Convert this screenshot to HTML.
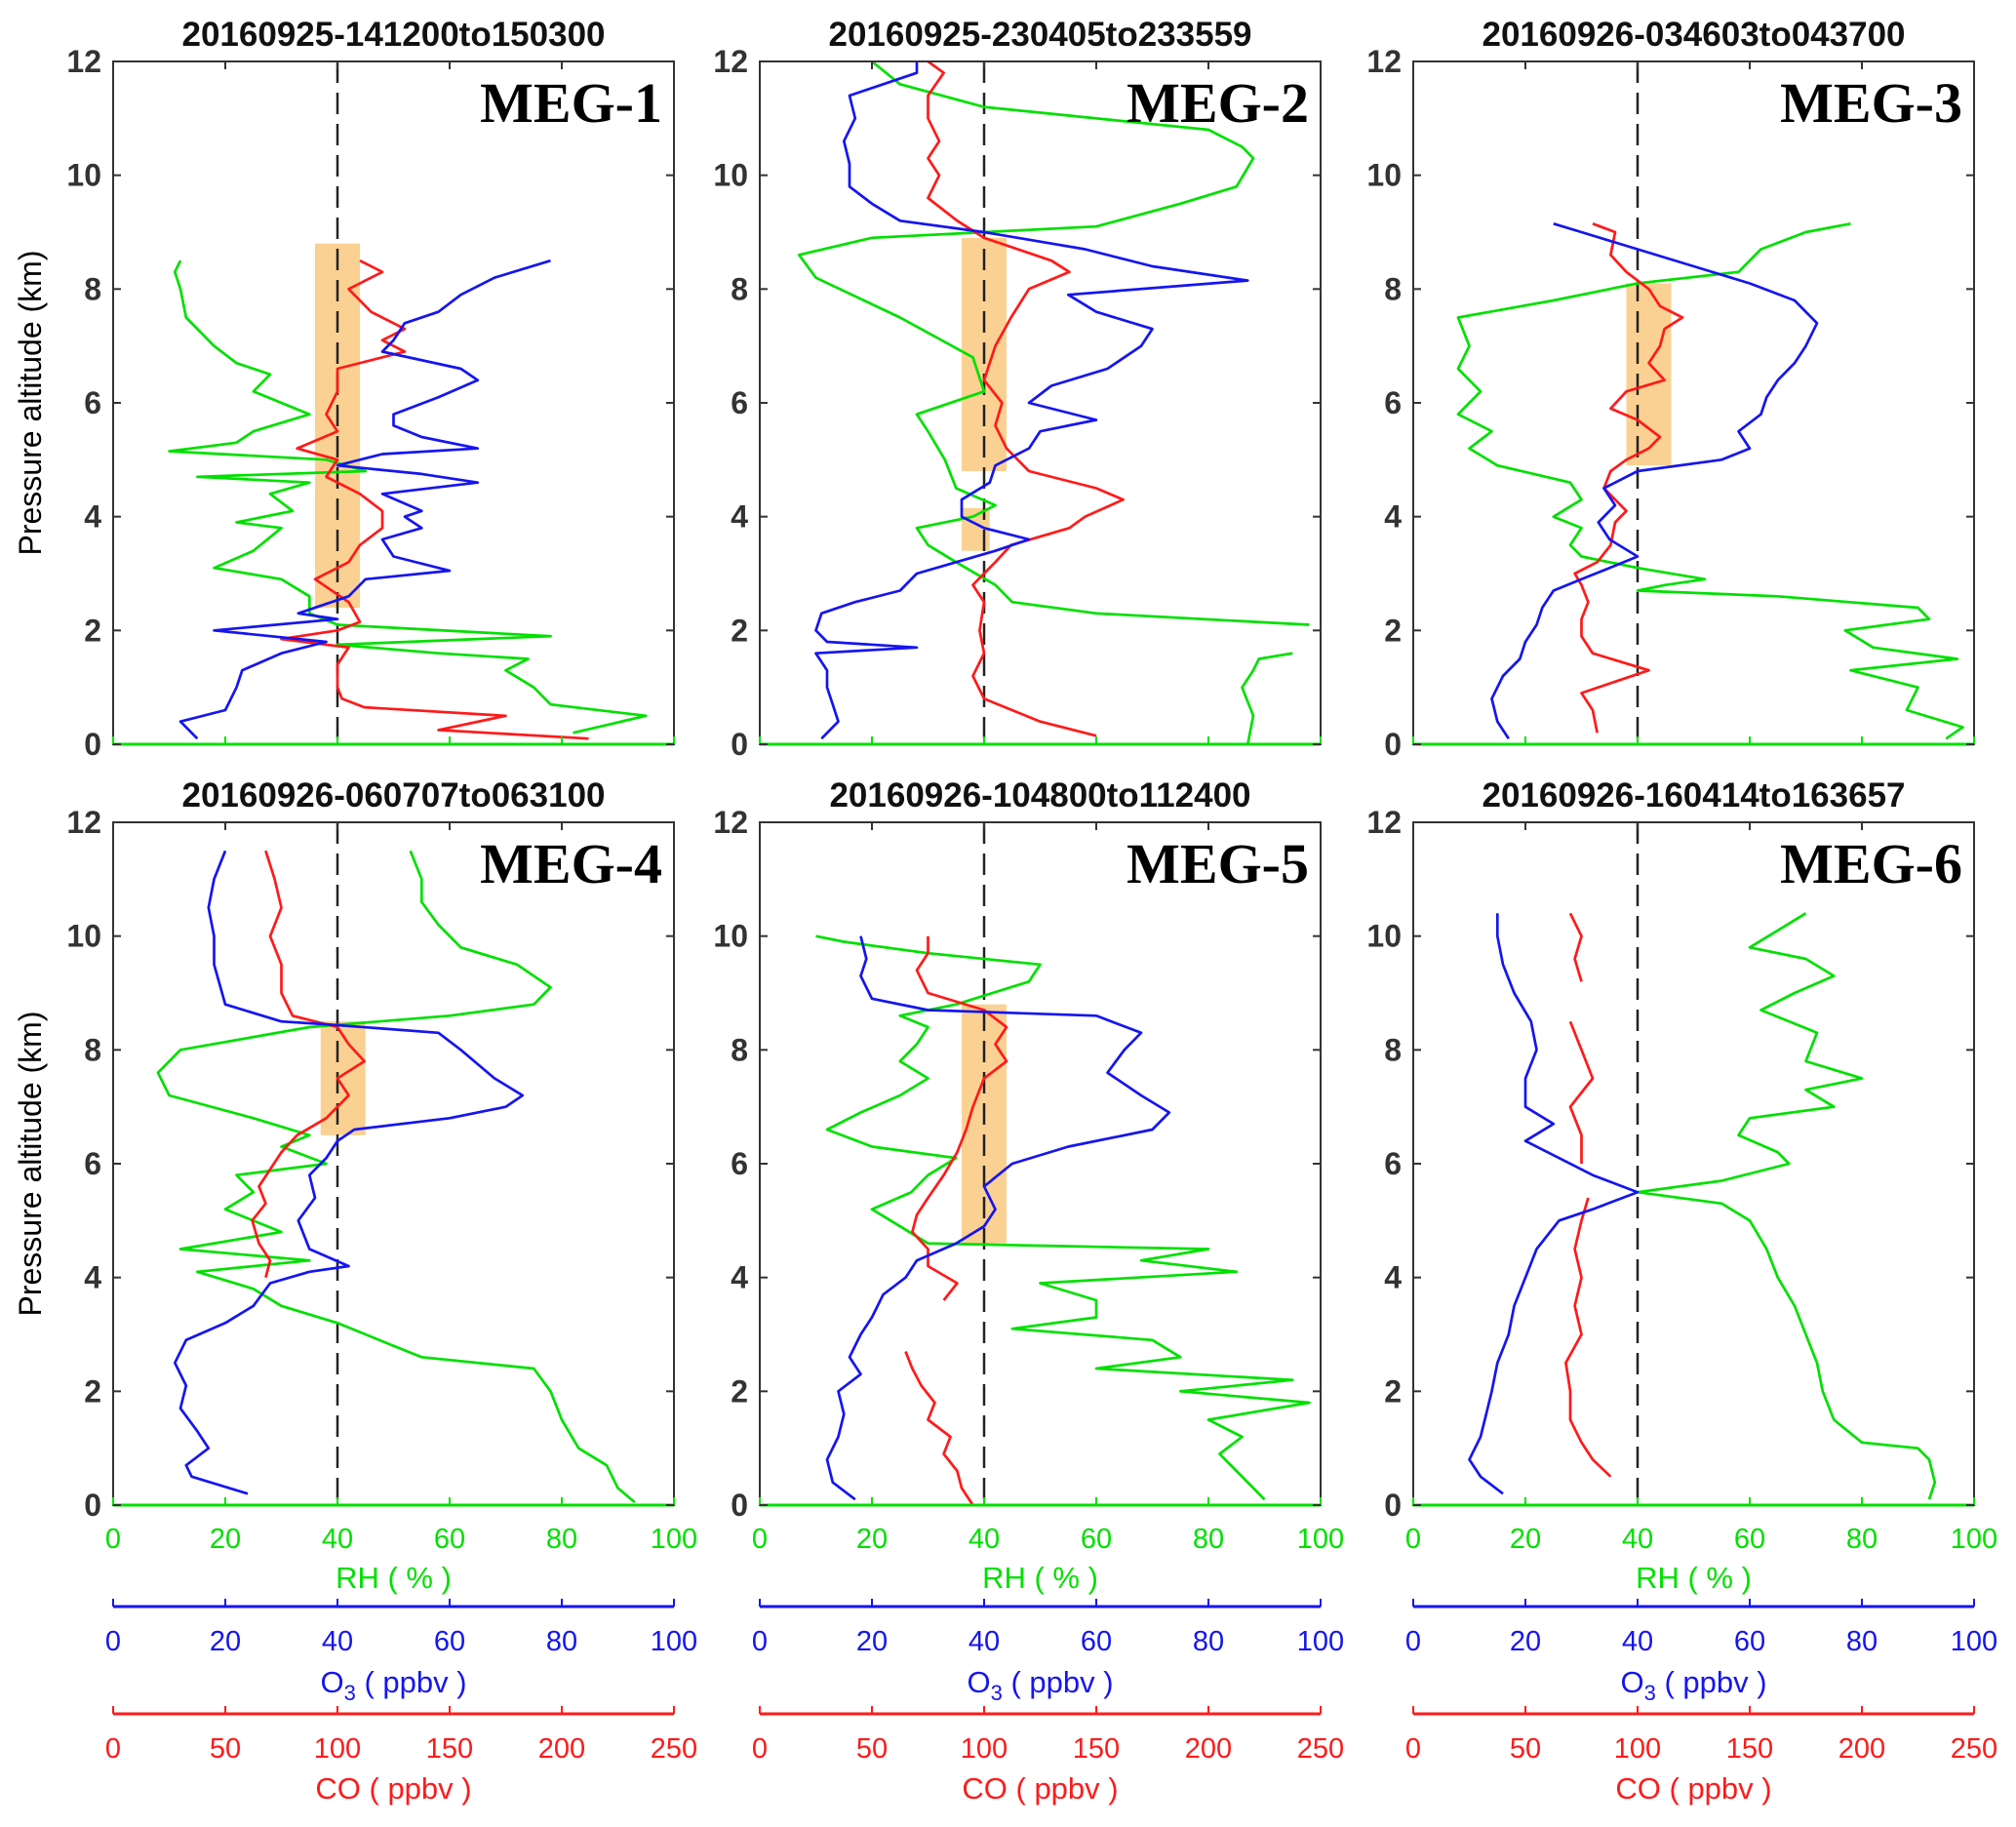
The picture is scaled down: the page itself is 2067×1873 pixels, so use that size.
<!DOCTYPE html>
<html><head><meta charset="utf-8">
<style>
html,body{margin:0;padding:0;background:#fff;}
svg{display:block;}
text{font-family:"Liberation Sans",sans-serif;}
text.serif{font-family:"Liberation Serif",serif;}
</style></head>
<body>
<svg id="fig" width="2067" height="1873" viewBox="0 0 2067 1873" xmlns="http://www.w3.org/2000/svg"></svg>
<script>
// ---- data (altitude km ; values in axis units; null breaks a line) ----
const titles = ["20160925-141200to150300","20160925-230405to233559","20160926-034603to043700","20160926-060707to063100","20160926-104800to112400","20160926-160414to163657"];
const labels = ["MEG-1","MEG-2","MEG-3","MEG-4","MEG-5","MEG-6"];
const yTicks = [0,2,4,6,8,10,12];
const rhTicks = [0,20,40,60,80,100];
const o3Ticks = [0,20,40,60,80,100];
const coTicks = [0,50,100,150,200,250];
const dashedRH = 40;
const boxes1 = [[36,44,2.4,8.8]];
const boxes2 = [[36,44,4.8,8.9],[36,41,3.4,4.15]];
const boxes3 = [[38,46,4.9,8.1]];
const boxes4 = [[37,45,6.5,8.5]];
const boxes5 = [[36,44,4.6,8.8]];
const boxes6 = [];

const p1RhAlt=[0.2,0.5,0.7,1.0,1.3,1.5,1.6,1.75,1.9,2.1,2.3,2.6,2.9,3.1,3.4,3.8,3.9,4.1,4.4,4.6,4.7,4.8,5.0,5.15,5.3,5.5,5.8,6.0,6.2,6.5,6.7,7.0,7.5,8.0,8.3,8.5];
const p1Rh=[82,95,78,75,70,74,58,40,78,40,35,35,30,18,25,30,22,32,28,35,15,45,38,10,22,25,35,30,25,28,22,18,13,12,11,12];
const p1O3Alt=[0.1,0.4,0.6,1.0,1.3,1.6,1.8,2.0,2.2,2.3,2.6,2.9,3.05,3.3,3.6,3.8,4.0,4.1,4.4,4.6,4.75,4.9,5.1,5.2,5.4,5.6,5.8,6.1,6.4,6.6,6.9,7.1,7.4,7.6,7.9,8.2,8.5];
const p1O3=[15,12,20,22,23,30,38,18,40,33,42,45,60,50,48,55,52,55,48,65,55,40,48,65,55,50,50,58,65,62,48,50,52,58,62,68,78];
const p1CoAlt=[0.1,0.25,0.5,0.65,0.8,1.0,1.4,1.7,1.85,2.0,2.15,2.5,2.9,3.2,3.5,3.8,4.1,4.4,4.7,5.0,5.2,5.5,5.8,6.2,6.6,6.9,7.1,7.3,7.6,8.0,8.3,8.5];
const p1Co=[212,145,175,112,102,100,100,105,75,100,110,105,90,105,110,120,120,110,95,100,82,100,95,100,100,130,120,130,115,105,120,110];

const p2RhAlt=[0,0.5,1.0,1.3,1.5,1.6,null,2.1,2.3,2.5,2.8,3.2,3.5,3.8,4.0,4.2,4.5,5.0,5.5,5.8,6.2,6.8,7.5,8.2,8.6,8.9,9.1,9.5,9.8,10.3,10.5,10.8,11.2,11.6,12];
const p2Rh=[87,88,86,88,89,95,null,98,60,45,42,35,30,28,38,42,35,33,30,28,40,38,25,10,7,20,60,75,85,88,86,80,40,25,20];
const p2O3Alt=[0.1,0.4,0.7,1.0,1.3,1.6,1.7,1.8,2.0,2.3,2.5,2.7,3.0,3.2,3.4,3.6,3.8,4.0,4.3,4.6,4.9,5.2,5.5,5.7,6.0,6.3,6.6,7.0,7.3,7.6,7.9,8.15,8.4,8.7,9.0,9.2,9.5,9.8,10.2,10.6,11.0,11.4,11.8,12];
const p2O3=[11,14,13,12,12,10,28,12,10,11,17,25,28,35,42,48,40,36,36,41,42,48,50,60,48,52,62,68,70,60,55,87,70,58,40,25,20,16,16,15,17,16,28,28];
const p2CoAlt=[0.15,0.4,0.8,1.2,1.6,2.0,2.5,2.8,3.2,3.5,3.8,4.0,4.3,4.5,4.8,5.2,5.6,6.0,6.4,7.0,7.5,8.0,8.3,8.5,8.9,9.2,9.6,10.0,10.3,10.6,11.0,11.4,11.8,12];
const p2Co=[150,125,100,95,100,98,100,95,105,112,138,145,162,150,120,110,105,108,100,105,112,120,138,130,100,88,75,80,75,80,75,75,82,75];

const p3RhAlt=[0.1,0.3,0.6,1.0,1.3,1.5,1.7,2.0,2.2,2.4,2.6,2.7,2.8,2.9,3.1,3.3,3.5,3.8,4.0,4.3,4.6,4.9,5.2,5.5,5.8,6.2,6.6,7.0,7.5,7.8,8.1,8.3,8.7,9.0,9.15];
const p3Rh=[95,98,88,90,78,97,82,77,92,90,65,40,45,52,40,30,28,30,25,30,28,15,10,14,8,12,8,10,8,25,40,58,62,70,78];
const p3O3Alt=[0.1,0.4,0.8,1.2,1.5,1.8,2.1,2.4,2.7,2.9,3.1,3.3,3.6,3.9,4.2,4.5,4.8,5.0,5.2,5.5,5.8,6.1,6.4,6.7,7.0,7.4,7.8,8.1,8.4,8.7,9.0,9.15];
const p3O3=[17,15,14,16,19,20,22,23,25,30,35,40,35,33,36,34,40,55,60,58,62,63,65,68,70,72,68,60,50,40,30,25];
const p3CoAlt=[0.2,0.6,0.9,1.1,1.3,1.6,1.9,2.2,2.5,2.8,3.0,3.2,3.5,3.9,4.1,4.5,4.8,5.0,5.2,5.4,5.7,5.9,6.2,6.4,6.7,7.0,7.3,7.5,7.7,8.0,8.3,8.6,9.0,9.15];
const p3Co=[82,80,75,90,105,80,75,75,78,75,72,82,88,90,95,85,88,95,105,110,100,88,95,112,105,110,112,120,110,105,95,88,90,80];

const p4RhAlt=[0.05,0.3,0.7,1.0,1.5,2.0,2.4,2.6,2.8,3.2,3.5,3.8,4.1,4.3,4.5,4.8,5.2,5.5,5.8,6.0,6.3,6.5,6.8,7.2,7.6,8.0,8.4,8.6,8.8,9.1,9.5,9.8,10.2,10.6,11.0,11.5];
const p4Rh=[93,90,88,83,80,78,75,55,50,40,30,25,15,35,12,30,20,25,22,38,30,35,25,10,8,12,35,60,75,78,72,62,58,55,55,53];
const p4O3Alt=[0.2,0.5,0.7,1.0,1.3,1.7,2.1,2.5,2.9,3.2,3.5,3.9,4.1,4.2,4.5,5.0,5.4,5.8,6.1,6.4,6.6,6.8,7.0,7.2,7.5,8.0,8.3,8.45,8.5,8.8,9.5,10.0,10.5,11.0,11.5];
const p4O3=[24,14,13,17,15,12,13,11,13,20,25,28,35,42,35,33,36,35,38,40,43,60,70,73,68,62,58,38,30,20,18,18,17,18,20];
const p4CoAlt=[4.0,4.3,4.6,5.0,5.3,5.6,5.9,6.2,6.5,6.8,7.2,7.5,7.8,8.1,8.4,8.6,9.0,9.5,10.0,10.5,11.0,11.5];
const p4Co=[68,70,65,62,68,65,70,75,82,95,105,100,112,105,100,80,75,75,70,75,72,68];

const p5RhAlt=[0.1,0.3,0.6,0.9,1.2,1.5,1.8,2.0,2.2,2.4,2.6,2.9,3.1,3.3,3.6,3.9,4.1,4.3,4.5,4.6,4.9,5.2,5.5,5.8,6.1,6.3,6.6,6.9,7.2,7.5,7.8,8.1,8.4,8.6,8.8,9.2,9.5,9.7,9.9,10.0];
const p5Rh=[90,88,85,82,86,80,98,75,95,60,75,70,45,60,60,50,85,68,80,30,25,20,27,30,35,20,12,18,25,30,25,28,30,25,35,48,50,30,15,10];
const p5O3Alt=[0.1,0.4,0.8,1.2,1.6,2.0,2.3,2.6,3.0,3.3,3.7,4.0,4.3,4.6,4.9,5.2,5.6,6.0,6.3,6.6,6.9,7.2,7.6,8.0,8.3,8.6,8.7,8.9,9.3,9.6,10.0];
const p5O3=[17,13,12,14,15,14,18,16,18,20,22,26,28,35,40,42,40,45,55,70,73,68,62,65,68,60,30,20,18,19,18];
const p5CoAlt=[0.0,0.3,0.6,0.9,1.2,1.5,1.8,2.1,2.4,2.7,null,3.6,3.9,4.2,4.5,4.8,5.1,5.4,5.8,6.2,6.6,7.0,7.5,7.8,8.1,8.4,8.7,9.0,9.4,9.7,10.0];
const p5Co=[95,90,88,82,85,75,78,72,68,65,null,82,88,75,75,68,70,75,82,88,92,95,100,110,105,110,100,75,70,75,75];

const p6RhAlt=[0.1,0.4,0.8,1.0,1.1,1.5,2.0,2.5,3.0,3.5,4.0,4.5,5.0,5.3,5.5,5.7,6.0,6.2,6.5,6.8,7.0,7.3,7.5,7.8,8.3,8.7,9.0,9.3,9.6,9.8,10.1,10.4];
const p6Rh=[92,93,92,90,80,75,73,72,70,68,65,63,60,55,40,55,67,65,58,60,75,70,80,70,72,62,68,75,70,60,65,70];
const p6O3Alt=[0.2,0.5,0.8,1.2,1.6,2.0,2.5,3.0,3.5,4.0,4.5,5.0,5.2,5.5,5.8,6.1,6.4,6.7,7.0,7.5,8.0,8.5,9.0,9.5,10.0,10.4];
const p6O3=[16,12,10,12,13,14,15,17,18,20,22,26,32,40,32,26,20,25,20,20,22,21,18,16,15,15];
const p6CoAlt=[0.5,0.8,1.1,1.5,2.0,2.5,3.0,3.5,4.0,4.5,5.0,5.4,null,6.0,6.5,7.0,7.5,8.0,8.5,null,9.2,9.6,10.0,10.4];
const p6Co=[88,80,75,70,70,68,75,72,75,72,75,78,null,75,75,70,80,75,70,null,75,72,75,70];

const panels = [
 {rhA:p1RhAlt,rh:p1Rh,o3A:p1O3Alt,o3:p1O3,coA:p1CoAlt,co:p1Co,boxes:boxes1},
 {rhA:p2RhAlt,rh:p2Rh,o3A:p2O3Alt,o3:p2O3,coA:p2CoAlt,co:p2Co,boxes:boxes2},
 {rhA:p3RhAlt,rh:p3Rh,o3A:p3O3Alt,o3:p3O3,coA:p3CoAlt,co:p3Co,boxes:boxes3},
 {rhA:p4RhAlt,rh:p4Rh,o3A:p4O3Alt,o3:p4O3,coA:p4CoAlt,co:p4Co,boxes:boxes4},
 {rhA:p5RhAlt,rh:p5Rh,o3A:p5O3Alt,o3:p5O3,coA:p5CoAlt,co:p5Co,boxes:boxes5},
 {rhA:p6RhAlt,rh:p6Rh,o3A:p6O3Alt,o3:p6O3,coA:p6CoAlt,co:p6Co,boxes:boxes6}
];

// ---- layout ----
const NS="http://www.w3.org/2000/svg";
const svg=document.getElementById('fig');
const colX=[116,779,1449], W=575, rowY=[63,843], H=700;
const GREEN="#00e000", BLUE="#1515f0", RED="#ff1a1a";
function mk(tag,attrs,parent){const e=document.createElementNS(NS,tag);for(const k in attrs)e.setAttribute(k,attrs[k]);(parent||svg).appendChild(e);return e;}
function txt(s,attrs,parent){const e=mk('text',attrs,parent);e.textContent=s;return e;}

panels.forEach((p,i)=>{
  const x0=colX[i%3], y0=rowY[Math.floor(i/3)];
  const g=mk('g',{});
  
  
  const sx=(v,max)=>x0+v/max*W;
  const sy=a=>y0+H-a/12*H;
  p.boxes.forEach((b,j)=>{
    const r=mk('rect',{x:sx(b[0],100),y:sy(b[3]),width:sx(b[1],100)-sx(b[0],100),height:sy(b[2])-sy(b[3]),fill:"#f9c97f",opacity:"0.85"},g);
    
    
  });
  const dl=mk('line',{x1:sx(dashedRH,100),x2:sx(dashedRH,100),y1:y0,y2:y0+H,stroke:"#222","stroke-width":2.5,"stroke-dasharray":"22,10"},g);
  
  
  const series=[[p.rhA,p.rh,100,GREEN,'rh-profile'],[p.coA,p.co,250,RED,'co-profile'],[p.o3A,p.o3,100,BLUE,'o3-profile']];
  series.forEach(s=>{
    let d='',pen=false;
    s[0].forEach((a,k)=>{
      if(a===null||s[1][k]===null){pen=false;return;}
      d+=(pen?'L':'M')+sx(s[1][k],s[2]).toFixed(1)+','+sy(a).toFixed(1);pen=true;
    });
    const pth=mk('path',{d:d,fill:"none",stroke:s[3],"stroke-width":2.7,"stroke-linejoin":"round"},g);
    
    
  });
  const fr=mk('rect',{x:x0,y:y0,width:W,height:H,fill:"none",stroke:"#333","stroke-width":2},g);
  
  
  const ax=mk('line',{x1:x0,x2:x0+W,y1:y0+H,y2:y0+H,stroke:GREEN,"stroke-width":3},g);
  
  
  rhTicks.forEach(t=>{
    const x=sx(t,100);
    mk('line',{x1:x,x2:x,y1:y0+H,y2:y0+H-8,stroke:GREEN,"stroke-width":2},g);
    mk('line',{x1:x,x2:x,y1:y0,y2:y0+8,stroke:"#333","stroke-width":2},g);
  });
  yTicks.forEach(t=>{
    const y=sy(t);
    mk('line',{x1:x0,x2:x0+8,y1:y,y2:y,stroke:"#333","stroke-width":2},g);
    mk('line',{x1:x0+W,x2:x0+W-8,y1:y,y2:y,stroke:"#333","stroke-width":2},g);
    const tl=txt(String(t),{x:x0-12,y:y+11,"text-anchor":"end","font-size":32,fill:"#333","font-weight":"bold"},g);
    
    
  });
  const tt=txt(titles[i],{x:x0+W/2,y:y0-16,"text-anchor":"middle","font-size":35,"font-weight":"bold",fill:"#111"},g);
  
  
  const lb=txt(labels[i],{x:x0+W-12,y:y0+62,"text-anchor":"end","font-size":58,"font-weight":"bold",fill:"#000","class":"serif"},g);
  
  
  if(i%3===0){
    const yl=txt("Pressure altitude (km)",{x:0,y:0,transform:`translate(42,${y0+H/2}) rotate(-90)`,"text-anchor":"middle","font-size":32,fill:"#000"},g);
    
    
  }
});

colX.forEach((x0,c)=>{
  const g=mk('g',{});
  
  
  const sx=(v,max)=>x0+v/max*W;
  rhTicks.forEach(t=>{
    const l=txt(String(t),{x:sx(t,100),y:1587,"text-anchor":"middle","font-size":29,fill:GREEN},g);
    
    
  });
  const rt=txt("RH ( % )",{x:x0+W/2,y:1628,"text-anchor":"middle","font-size":31,fill:GREEN},g);
  
  
  const bl=mk('line',{x1:x0,x2:x0+W,y1:1647,y2:1647,stroke:BLUE,"stroke-width":3},g);
  
  
  o3Ticks.forEach(t=>{
    mk('line',{x1:sx(t,100),x2:sx(t,100),y1:1647,y2:1639,stroke:BLUE,"stroke-width":2},g);
    const l=txt(String(t),{x:sx(t,100),y:1692,"text-anchor":"middle","font-size":29,fill:BLUE},g);
    
    
  });
  const ot=txt("",{x:x0+W/2,y:1735,"text-anchor":"middle","font-size":31,fill:BLUE},g);
  ot.innerHTML='O<tspan font-size="22" dy="8">3</tspan><tspan dy="-8"> ( ppbv )</tspan>';
  
  
  const rl=mk('line',{x1:x0,x2:x0+W,y1:1757,y2:1757,stroke:RED,"stroke-width":3},g);
  
  
  coTicks.forEach(t=>{
    mk('line',{x1:sx(t,250),x2:sx(t,250),y1:1757,y2:1749,stroke:RED,"stroke-width":2},g);
    const l=txt(String(t),{x:sx(t,250),y:1802,"text-anchor":"middle","font-size":29,fill:RED},g);
    
    
  });
  const ct=txt("CO ( ppbv )",{x:x0+W/2,y:1844,"text-anchor":"middle","font-size":31,fill:RED},g);
  
  
});
</script>
</body></html>
